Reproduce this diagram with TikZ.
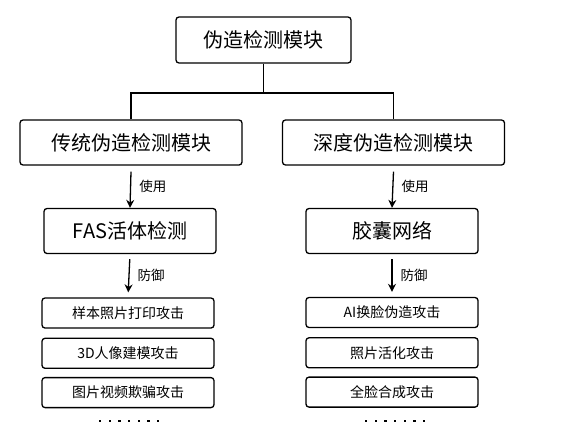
\documentclass[tikz,border=0pt]{standalone}
\usepackage{fontspec}
\setmainfont{Noto Sans CJK SC}
\usetikzlibrary{positioning,arrows.meta}

\tikzset{
  box/.style={draw, line width=1.3pt, rounded corners=3pt, align=center, inner sep=0pt},
  bigbox/.style={box, minimum height=45pt, font=\fontsize{20}{24}\selectfont},
  smallbox/.style={box, minimum width=172pt, minimum height=30pt, font=\fontsize{14}{17}\selectfont},
  link/.style={line width=1.3pt},
  usearrow/.style={line width=1.3pt, -{Stealth[length=8pt,width=8pt]}},
  lbl/.style={font=\fontsize{13.5}{16}\selectfont, anchor=west, inner sep=0pt}
}

\begin{document}
\begin{tikzpicture}[x=1pt, y=-1pt]
        \useasboundingbox (0,0) rectangle (565,442);

        % Modulo principal
        \node[bigbox, minimum width=175pt, minimum height=46pt] (top) at (263.5,40) {伪造检测模块};

        % Dos ramas
        \node[bigbox, minimum width=222pt] (trad) at (131,142.5) {传统伪造检测模块};
        \node[bigbox, minimum width=222pt] (deep) at (393.5,142.5) {深度伪造检测模块};
        \coordinate (split) at (263.5,93);
        \draw[link] (top.south) -- (split);
        \draw[link] (trad.north) |- (split) -| (deep.north);

        % Metodos
        \node[bigbox, minimum width=172pt] (fas) at (130,231) {FAS活体检测};
        \node[bigbox, minimum width=172pt] (caps) at (392,231) {胶囊网络};
        \draw[usearrow] ([yshift=-6pt]trad.south) -- (fas.north)
            node[lbl, pos=0.4, xshift=8pt] {使用};
        \draw[usearrow] ([yshift=-6pt]deep.south) -- (caps.north)
            node[lbl, pos=0.4, xshift=8pt] {使用};

        % Ataques
        \node[smallbox] (a1) at (128,313) {样本照片打印攻击};
        \node[smallbox, below=9pt of a1] (a2) {3D人像建模攻击};
        \node[smallbox, below=8pt of a2] (a3) {图片视频欺骗攻击};
        \node[smallbox] (b1) at (392,312.5) {AI换脸伪造攻击};
        \node[smallbox, below=9pt of b1] (b2) {照片活化攻击};
        \node[smallbox, below=8pt of b2] (b3) {全脸合成攻击};
        \draw[usearrow, shorten <=5pt, shorten >=5pt] (fas.south) -- (a1.north)
            node[lbl, midway, xshift=8pt] {防御};
        \draw[usearrow, shorten <=5pt, shorten >=5pt] (caps.south) -- (b1.north)
            node[lbl, midway, xshift=8pt] {防御};

        % Puntos
        \foreach \i in {0,...,6} {
            \fill (100+9.7*\i-1.2,420) rectangle ++(2.4,2.4);
            \fill (366+9.7*\i-1.2,420) rectangle ++(2.4,2.4);
        }
    \end{tikzpicture}
\end{document}
